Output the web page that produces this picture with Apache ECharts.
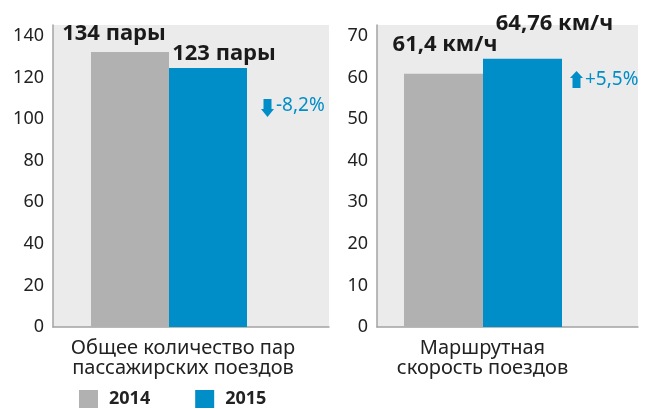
<!DOCTYPE html>
<html>
<head>
<meta charset="utf-8">
<script src="https://cdn.jsdelivr.net/npm/echarts@6/dist/echarts.min.js"></script>
<style>
	html, body { margin: 0; padding: 0; background: #fff; }
	#chart { width: 654px; height: 409px; }
</style>
</head>
<body>
<div id="chart"></div>
<script>
	// данные
	var years = ['2014', '2015'];
	var categories = ['Общее количество пар\nпассажирских поездов', 'Маршрутная\nскорость поездов'];
	var trainPairs = [132.3, 124.6];
	var trainPairLabels = ['134 пары', '123 пары'];
	var speed = [60.9, 64.5];
	var speedLabels = ['61,4 км/ч', '64,76 км/ч'];
	var changeLabels = ['-8,2%', '+5,5%'];

	var gray = '#b0b1b0';
	var blue = '#008ec8';
	var font = '"Noto Sans", sans-serif';

	var myChart = echarts.init(document.getElementById('chart'), null, {renderer: 'canvas'});

	function barLabel(text, dx, dy) {
		return {
			show: true,
			position: 'top',
			distance: 0,
			offset: [dx, dy],
			formatter: text,
			fontFamily: font,
			fontWeight: 'bold',
			fontSize: 22,
			color: '#1a1a1a'
		};
	}

	function barSeries(name, value, color, axisIdx, label, width) {
		return {
			name: name,
			type: 'bar',
			xAxisIndex: axisIdx,
			yAxisIndex: axisIdx,
			barWidth: width,
			barGap: 0,
			itemStyle: {color: color},
			label: label,
			silent: true,
			data: [value]
		};
	}

	function spacer(axisIdx, width) {
		// пустая колонка, сдвигает пару столбиков влево
		return {
			type: 'bar',
			xAxisIndex: axisIdx,
			yAxisIndex: axisIdx,
			barWidth: width,
			barGap: 0,
			silent: true,
			itemStyle: {color: 'transparent'},
			data: ['-']
		};
	}

	function yAxis(idx, max, interval) {
		return {
			type: 'value',
			gridIndex: idx,
			min: 0,
			max: max,
			interval: interval,
			axisLine: {show: true, lineStyle: {color: '#a3a3a3', width: 1.5}},
			axisTick: {show: false},
			splitLine: {show: false},
			axisLabel: {
				showMaxLabel: false,
				margin: 9,
				fontFamily: font,
				fontSize: 18,
				color: '#222'
			}
		};
	}

	function xAxis(idx, cat, padRight) {
		return {
			type: 'category',
			gridIndex: idx,
			data: [cat],
			axisLine: {show: true, lineStyle: {color: '#a3a3a3', width: 1.5}},
			axisTick: {show: false},
			axisLabel: {
				margin: 11,
				padding: [0, padRight, 0, 0],
				fontFamily: font,
				fontSize: 20,
				lineHeight: 20,
				color: '#222'
			}
		};
	}

	function arrow(x, y, up) {
		// маленькая стрелка у процента
		var pts = up ?
			[[x + 6.5, y], [x + 13, y + 7], [x + 10.5, y + 7], [x + 10.5, y + 17], [x + 2.5, y + 17], [x + 2.5, y + 7], [x, y + 7]] :
			[[x + 2.5, y], [x + 10.5, y], [x + 10.5, y + 10], [x + 13, y + 10], [x + 6.5, y + 18], [x, y + 10], [x + 2.5, y + 10]];
		return {type: 'polygon', shape: {points: pts}, style: {fill: blue}, silent: true};
	}

	function changeText(text, x, y) {
		return {
			type: 'text', x: x, y: y, silent: true,
			style: {
				text: text, fill: blue, font: 'normal 19px "Noto Sans"',
				verticalAlign: 'middle', align: 'left'
			}
		};
	}

	myChart.setOption({
		animation: false,
		textStyle: {fontFamily: font},
		grid: [
			{left: 53, top: 25, width: 276, height: 302, show: true, backgroundColor: '#ebebeb', borderWidth: 0},
			{left: 377, top: 25, width: 261, height: 302, show: true, backgroundColor: '#ebebeb', borderWidth: 0}
		],
		legend: {
			data: years,
			left: 79,
			top: 390,
			padding: 0,
			itemWidth: 19,
			itemHeight: 18,
			itemGap: 45,
			icon: 'rect',
			textStyle: {
				fontFamily: font,
				fontWeight: 'bold',
				fontSize: 18,
				color: '#222',
				padding: [0, 0, 0, 6]
			}
		},
		xAxis: [xAxis(0, categories[0], 16), xAxis(1, categories[1], 50)],
		yAxis: [yAxis(0, 145.3, 20), yAxis(1, 72.6, 10)],
		series: [
			barSeries(years[0], trainPairs[0], gray, 0, barLabel(trainPairLabels[0], -16, -7), 78),
			barSeries(years[1], trainPairs[1], blue, 0, barLabel(trainPairLabels[1], 16, -3), 78),
			spacer(0, 44),
			barSeries(years[0], speed[0], gray, 1, barLabel(speedLabels[0], 1.5, -18), 79),
			barSeries(years[1], speed[1], blue, 1, barLabel(speedLabels[1], 32, -24), 79),
			spacer(1, 49)
		],
		graphic: [
			arrow(261, 99, false),
			changeText(changeLabels[0], 276, 106),
			arrow(570, 71, true),
			changeText(changeLabels[1], 585, 80)
		]
	});
</script>
</body>
</html>
